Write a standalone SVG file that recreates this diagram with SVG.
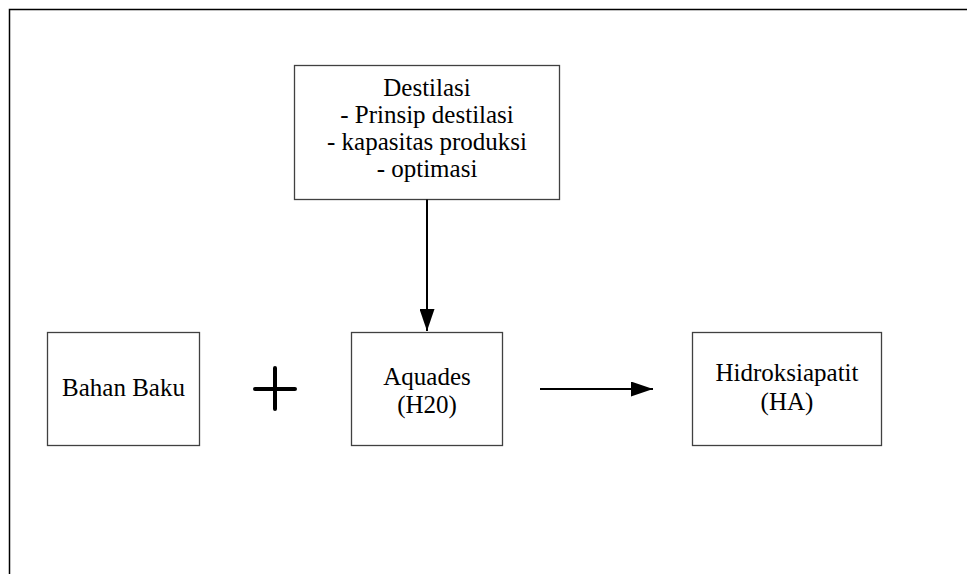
<svg xmlns="http://www.w3.org/2000/svg" width="967" height="574" viewBox="0 0 967 574">
<style>
.box{fill:#fff;stroke:#404040;stroke-width:1.3}
.t{font-family:"Liberation Serif","Times New Roman",serif;font-size:25px;fill:#000;text-anchor:middle}
.ln{stroke:#000;stroke-width:2;fill:none}
</style>
<defs>
<marker id="ah2" viewBox="0 0 10 10" refX="10" refY="5" markerWidth="22" markerHeight="15" markerUnits="userSpaceOnUse" orient="auto" preserveAspectRatio="none">
<path d="M0,0 L10,5 L0,10 Z" fill="#000"/>
</marker>
</defs>
<rect width="967" height="574" fill="#fff"/>
<g id="frame">
<path d="M9.5,574 V9.5 H967" fill="none" stroke="#000" stroke-width="1.5"/>
</g>
<g id="destilasi">
<rect class="box" x="294.5" y="65.5" width="265" height="134"/>
<text class="t" x="427" y="96">Destilasi</text>
<text class="t" x="427" y="123">- Prinsip destilasi</text>
<text class="t" x="427" y="150">- kapasitas produksi</text>
<text class="t" x="427" y="177">- optimasi</text>
</g>
<g id="bahan-baku">
<rect class="box" x="47.5" y="332.5" width="152" height="113"/>
<text class="t" x="123.5" y="396">Bahan Baku</text>
</g>
<g id="aquades">
<rect class="box" x="351.5" y="332.5" width="151" height="113"/>
<text class="t" x="427" y="385">Aquades</text>
<text class="t" x="427" y="413">(H20)</text>
</g>
<g id="hidroksiapatit">
<rect class="box" x="692.5" y="332.5" width="189" height="113"/>
<text class="t" x="787" y="381">Hidroksiapatit</text>
<text class="t" x="787" y="410">(HA)</text>
</g>
<g id="connectors">
<line class="ln" x1="427" y1="199.5" x2="427" y2="331" marker-end="url(#ah2)"/>
<line class="ln" x1="540" y1="389" x2="653" y2="389" marker-end="url(#ah2)"/>
<path d="M255,389 H295 M275,368 V409" stroke="#000" stroke-width="4" stroke-linecap="round" fill="none"/>
</g>
</svg>
